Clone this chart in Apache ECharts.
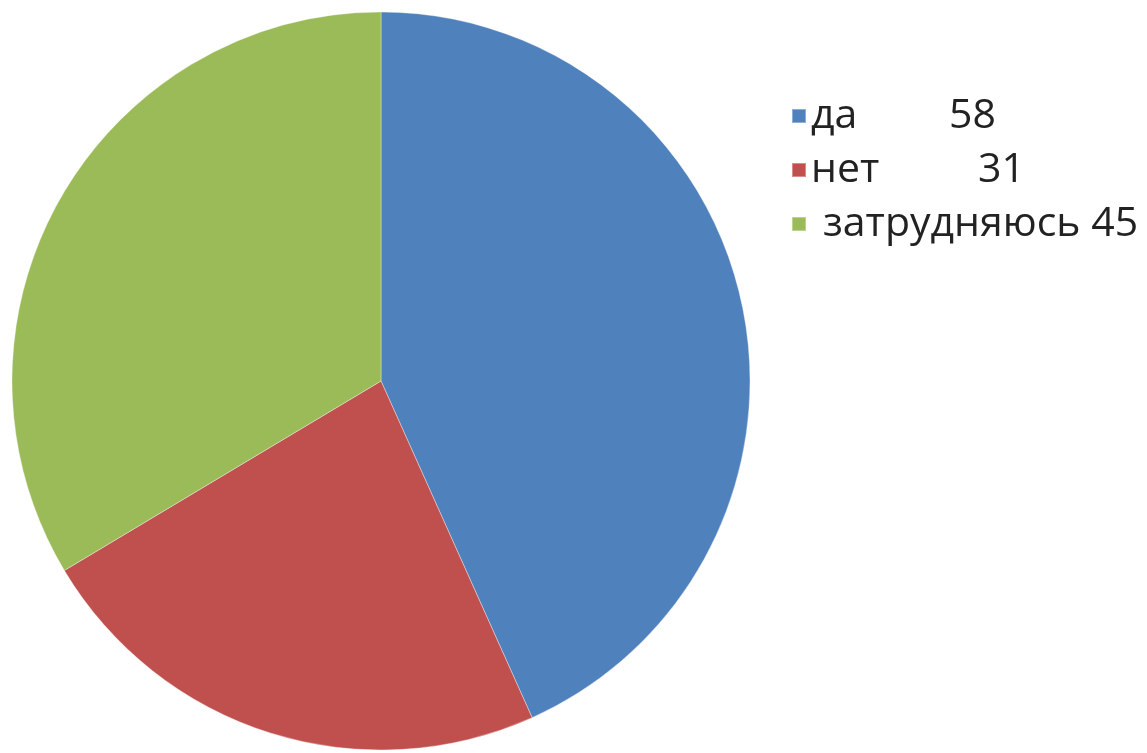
<!DOCTYPE html>
<html><head><meta charset="utf-8">
<script src="https://cdn.jsdelivr.net/npm/echarts@6/dist/echarts.min.js"></script>
<style>html,body{margin:0;padding:0;background:#fff}#c{width:1147px;height:753px}</style>
</head><body><div id="c"></div>
<script>
const categories = ['да', 'нет', 'затрудняюсь'];
const values = [58, 31, 45];
const colors = ['#4F81BD', '#C0504D', '#9BBB59'];

const chart = echarts.init(document.getElementById('c'));
const idx = {};
categories.forEach((c, i) => idx[c] = i);
const base = { fontFamily: 'Open Sans', fontSize: 41, lineHeight: 42, color: '#222' };
chart.setOption({
  animation: false,
  legend: {
    orient: 'vertical',
    left: 786,
    top: 90,
    itemWidth: 14,
    itemHeight: 14,
    itemGap: 12,
    icon: 'rect',
    textStyle: Object.assign({}, base, {
      rich: {
        n0: Object.assign({}, base, { width: 138 }),
        n1: Object.assign({}, base, { width: 167 }),
        n2: Object.assign({}, base, { padding: [0, 0, 0, 12] }),
        v: Object.assign({}, base)
      }
    }),
    formatter: function (name) {
      const i = idx[name];
      if (i === 2) return '{n2|' + name + ' ' + values[i] + '}';
      return '{n' + i + '|' + name + '}{v|' + values[i] + '}';
    },
    data: categories
  },
  series: [{
    type: 'pie',
    center: [381, 381],
    radius: 369,
    startAngle: 90,
    clockwise: true,
    label: { show: false },
    labelLine: { show: false },
    itemStyle: { borderColor: 'rgba(255,255,255,0.35)', borderWidth: 1 },
    emphasis: { disabled: true },
    data: categories.map((c, i) => ({ name: c, value: values[i], itemStyle: { color: colors[i] } }))
  }]
});
</script></body></html>
